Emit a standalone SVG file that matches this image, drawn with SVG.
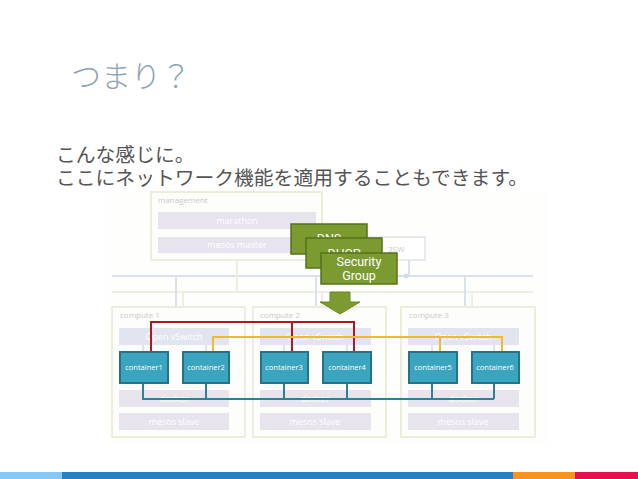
<svg xmlns="http://www.w3.org/2000/svg" width="638" height="479" viewBox="0 0 638 479">
<style>
.jp{font-family:"Noto Sans CJK JP","Noto Sans",sans-serif}
.box{fill:#fdfdfb;stroke:#eceedc;stroke-width:2}
.lbl{font-family:"Open Sans","DejaVu Sans",sans-serif;font-size:8px;fill:#c9cbc6}
.bar{fill:#e7e4ee}
.vsw{fill:#e0e5f0}
.bt{font-family:"Open Sans","DejaVu Sans",sans-serif;font-size:9px;fill:#ffffff;text-anchor:middle}
.ct{fill:#3ba4be;stroke:#22748a;stroke-width:2}
.ctt{font-family:"Open Sans","DejaVu Sans",sans-serif;font-size:7.5px;fill:#ffffff;text-anchor:middle}
.gb{fill:#7b9b30;stroke:#55731a;stroke-width:1.5}
.gt{font-family:Roboto,"DejaVu Sans",sans-serif;font-size:12.5px;fill:#ffffff;text-anchor:middle}
.fb{stroke:#d9e1ea;stroke-width:2;fill:none}
.fg{stroke:#edefe0;stroke-width:2;fill:none}
.stub{stroke:#d8dbe2;stroke-width:1.5;fill:none}
.red{stroke:#b0171f;stroke-width:2;fill:none}
.yel{stroke:#f2bb25;stroke-width:2;fill:none}
.blu{stroke:#2f7f99;stroke-width:2;fill:none}
</style>
<rect width="638" height="479" fill="#ffffff"/>
<text class="jp" x="71" y="87" font-size="30" fill="#8fa3b3" font-weight="300">つまり？</text>
<text class="jp" x="56" y="162" font-size="19.8" fill="#555555">こんな感じに。</text>
<text class="jp" x="56" y="185" font-size="19.8" fill="#555555">ここにネットワーク機能を適用することもできます。</text>

<rect x="110" y="192" width="438" height="252" fill="#fefefd"/>

<g id="background-network">
<path class="fb" d="M112 276H533"/>
<path class="fg" d="M112 292H533"/>
<path class="fg" d="M237 260V292M183 292V307M322 292V307M472 292V307"/>
<path class="fb" d="M176 276V328M316 276V328M465 276V328M409 260V276"/>
<circle cx="406" cy="276" r="2.5" fill="#d3dce6"/>
</g>

<g id="management">
<rect class="box" x="151" y="192" width="171" height="68"/>
<text class="lbl" x="158" y="203">management</text>
<rect class="bar" x="158" y="212" width="158" height="17"/>
<text class="bt" x="237" y="224">marathon</text>
<rect class="bar" x="158" y="237" width="158" height="16"/>
<text class="bt" x="237" y="248">mesos master</text>
</g>

<g id="sw3">
<rect x="355" y="237" width="70" height="23" fill="#ffffff" stroke="#dfe5ec" stroke-width="1.5"/>
<text class="lbl" x="388" y="252">3SW</text>
</g>

<g id="compute1">
<rect class="box" x="112" y="307" width="133" height="130"/>
<text class="lbl" x="120" y="318">compute 1</text>
<rect class="vsw" x="119" y="328" width="110" height="17"/>
<text class="bt" x="174" y="340">Open vSwitch</text>
<rect class="bar" x="119" y="390" width="110" height="17"/>
<text class="bt" x="174" y="402">docker</text>
<rect class="bar" x="119" y="413" width="110" height="17"/>
<text class="bt" x="174" y="425">mesos slave</text>
<path class="stub" d="M143 345V352M206 345V352"/>
</g>

<g id="compute2">
<rect class="box" x="253" y="307" width="133" height="130"/>
<text class="lbl" x="260" y="318">compute 2</text>
<rect class="vsw" x="260" y="328" width="111" height="17"/>
<text class="bt" x="315" y="340">Open vSwitch</text>
<rect class="bar" x="260" y="390" width="111" height="17"/>
<text class="bt" x="315" y="402">docker</text>
<rect class="bar" x="260" y="413" width="111" height="17"/>
<text class="bt" x="315" y="425">mesos slave</text>
<path class="stub" d="M284 345V352M347 345V352"/>
</g>

<g id="compute3">
<rect class="box" x="401" y="307" width="134" height="130"/>
<text class="lbl" x="409" y="318">compute 3</text>
<rect class="vsw" x="408" y="328" width="111" height="17"/>
<text class="bt" x="463" y="340">Open vSwitch</text>
<rect class="bar" x="408" y="390" width="111" height="17"/>
<text class="bt" x="463" y="402">docker</text>
<rect class="bar" x="408" y="413" width="111" height="17"/>
<text class="bt" x="463" y="425">mesos slave</text>
<path class="stub" d="M432 345V352M494 345V352"/>
</g>

<g id="connectors">
<path class="blu" d="M143 383V399H494M206 383V399M284 383V399M347 383V399M432 383V399M494 383V399"/>
<path class="red" d="M151 352V322H354V352M292 322V352"/>
<path class="yel" d="M213 352V337H502V352M440 337V352"/>
</g>

<g id="container1"><rect class="ct" x="120" y="352" width="48" height="31"/><text class="ctt" x="144" y="370">container1</text></g>
<g id="container2"><rect class="ct" x="183" y="352" width="46" height="31"/><text class="ctt" x="206" y="370">container2</text></g>
<g id="container3"><rect class="ct" x="261" y="352" width="47" height="31"/><text class="ctt" x="284" y="370">container3</text></g>
<g id="container4"><rect class="ct" x="323" y="352" width="48" height="31"/><text class="ctt" x="347" y="370">container4</text></g>
<g id="container5"><rect class="ct" x="409" y="352" width="48" height="31"/><text class="ctt" x="433" y="370">container5</text></g>
<g id="container6"><rect class="ct" x="472" y="352" width="47" height="31"/><text class="ctt" x="495" y="370">container6</text></g>

<g id="dns"><rect class="gb" x="291" y="224" width="76" height="30"/><text class="gt" x="329" y="243">DNS</text></g>
<g id="dhcp"><rect class="gb" x="306" y="238" width="76" height="30"/><text class="gt" x="344" y="258">DHCP</text></g>
<g id="security-group"><rect class="gb" x="321" y="253" width="76" height="31"/><text class="gt" x="359" y="266">Security</text><text class="gt" x="359" y="280">Group</text></g>
<g id="arrow"><polygon points="330,292 350,292 350,302 360,302 340,314 320,302 330,302" fill="#7b9b30" stroke="#6b8a24" stroke-width="1"/></g>

<g id="footer-bar">
<rect x="0" y="472" width="62" height="7" fill="#82c9f6"/>
<rect x="62" y="472" width="451" height="7" fill="#2581c1"/>
<rect x="513" y="472" width="62" height="7" fill="#f7941e"/>
<rect x="575" y="472" width="63" height="7" fill="#e6104e"/>
</g>
</svg>
